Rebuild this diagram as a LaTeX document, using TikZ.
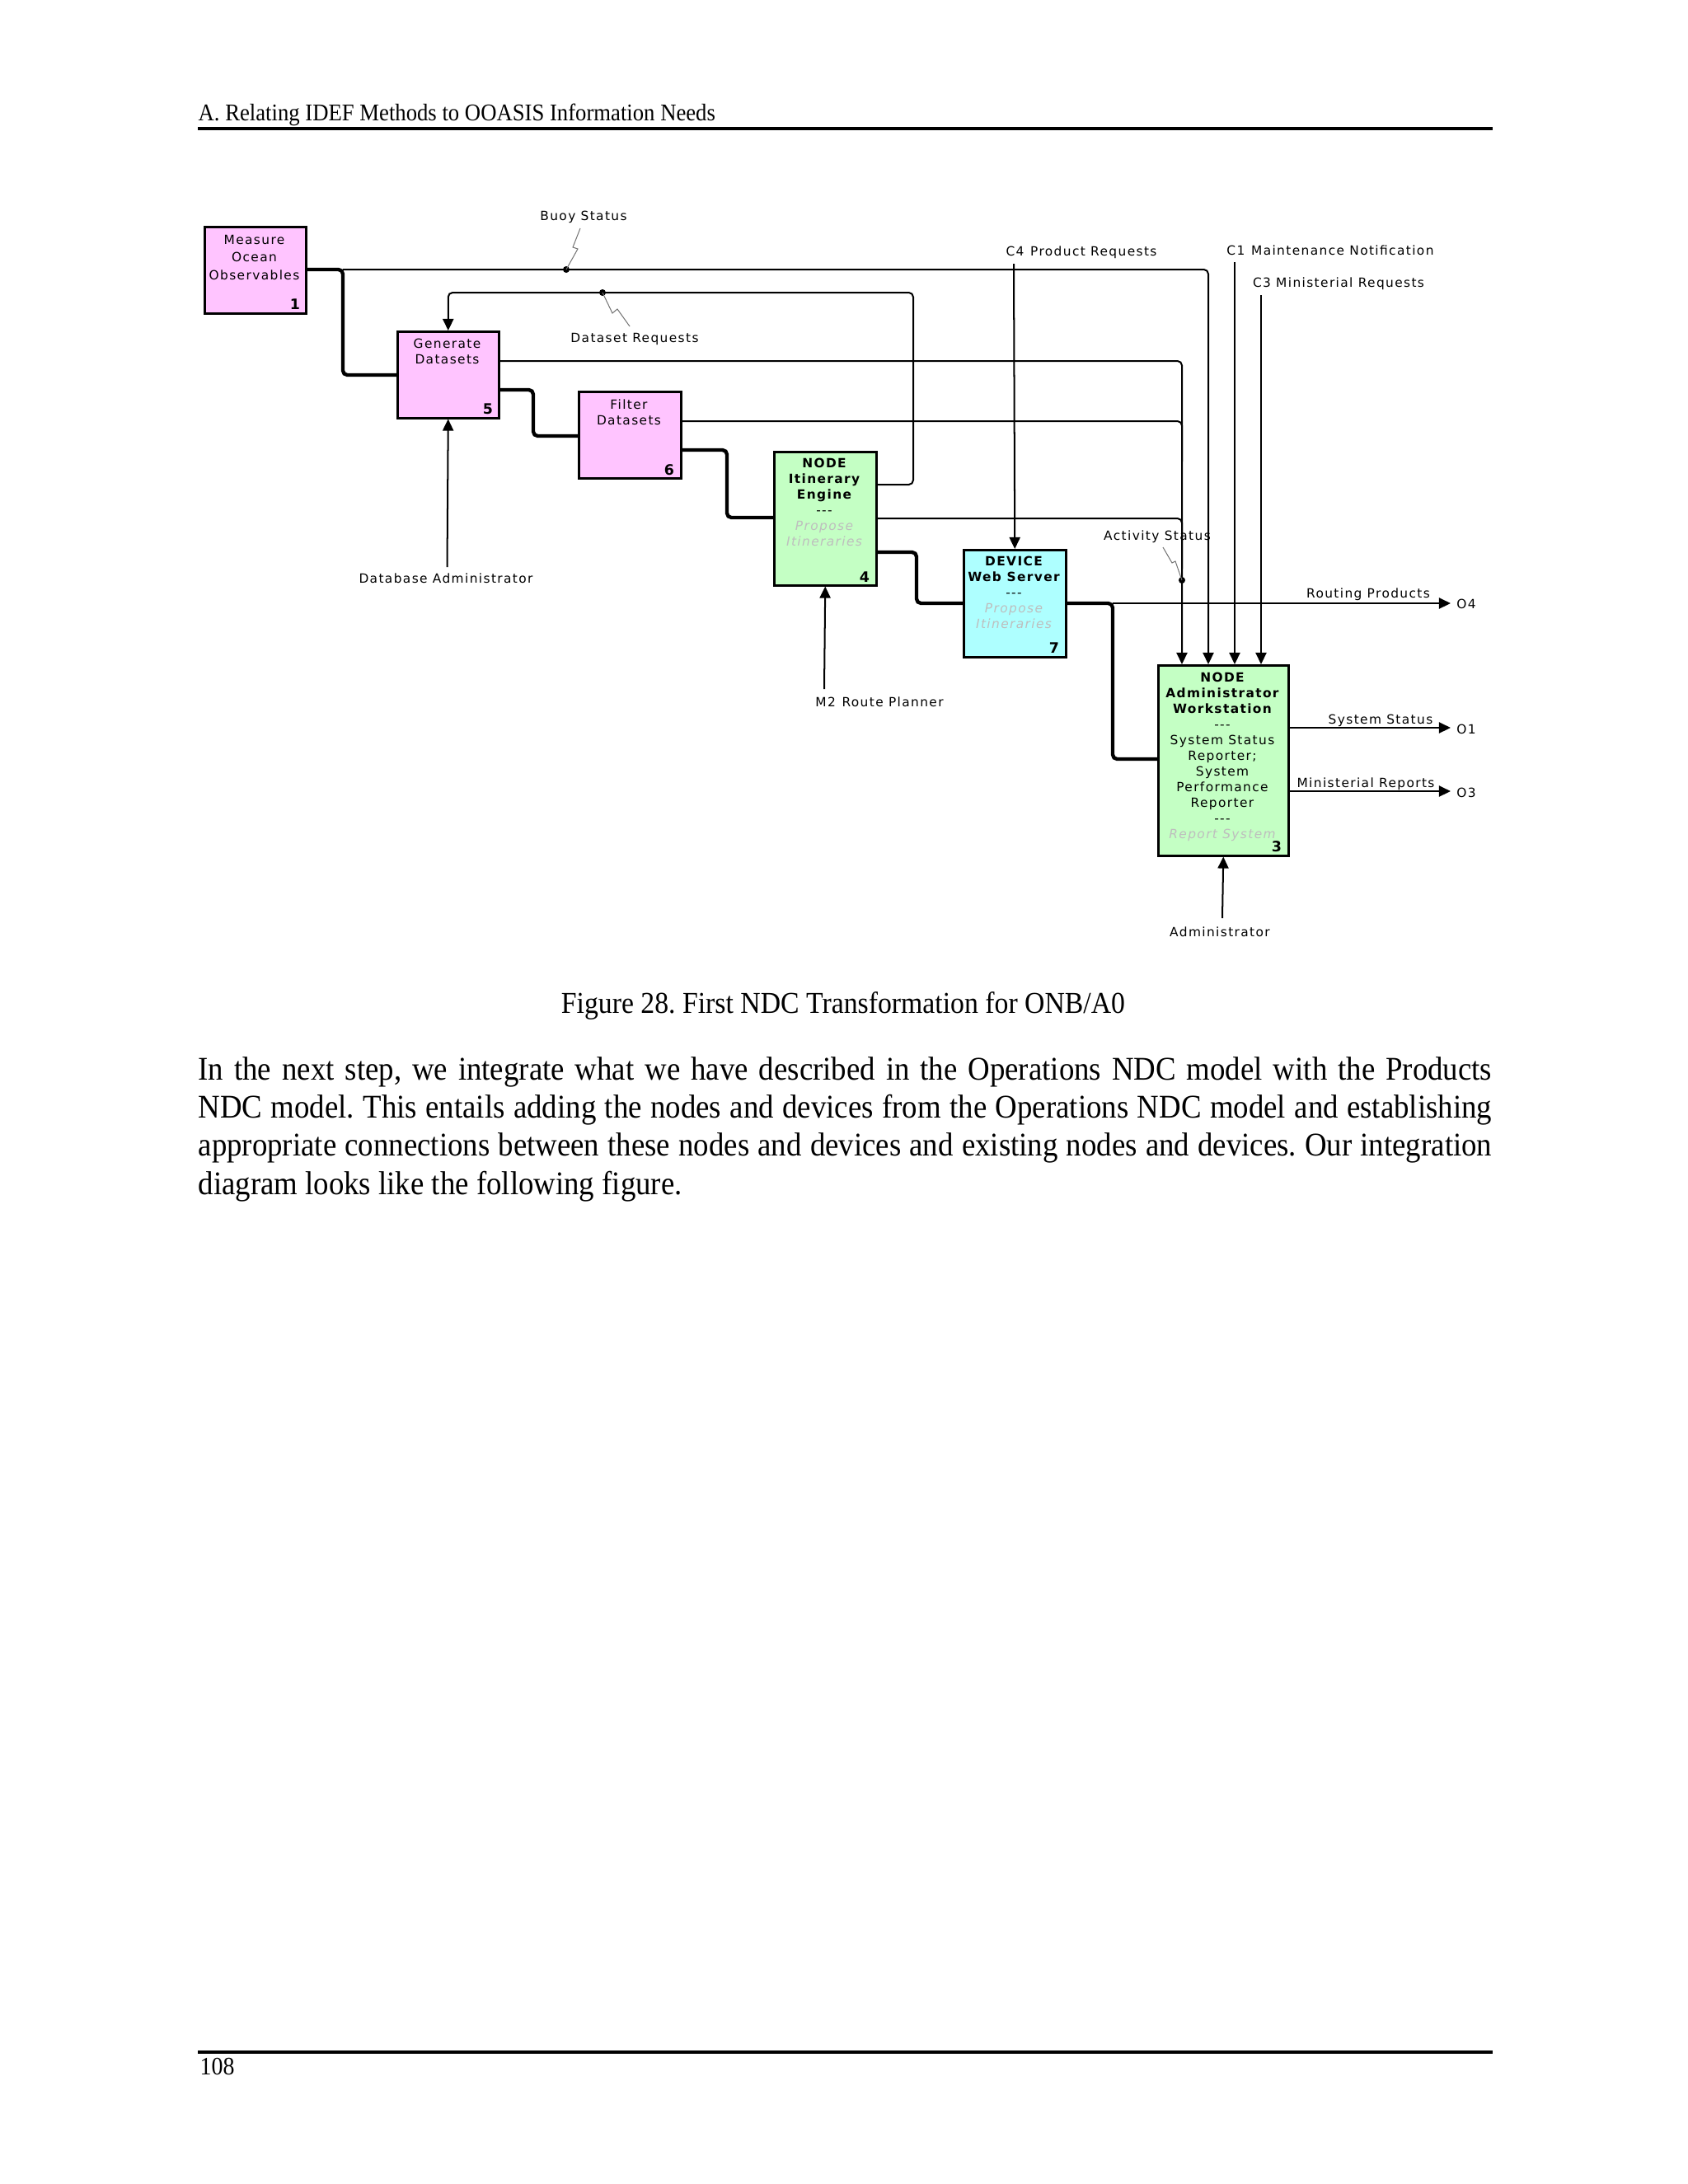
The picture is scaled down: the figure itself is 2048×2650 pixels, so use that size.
\documentclass[tikz,border=0pt]{standalone}
\usepackage{fontspec}
\setmainfont{Liberation Serif}[FakeStretch=0.917]
\newfontfamily\dia{DejaVu Sans}[LetterSpace=9]
\usetikzlibrary{arrows.meta}
\definecolor{pinkbox}{RGB}{255,196,255}
\definecolor{greenbox}{RGB}{196,255,196}
\definecolor{cyanbox}{RGB}{174,255,255}
\definecolor{ghost}{RGB}{190,190,190}
\begin{document}
\frenchspacing
\begin{tikzpicture}[x=0.29883pt,y=-0.29883pt,
  box/.style={draw, line width=0.75pt, anchor=north west, inner sep=0pt},
  thinline/.style={line width=0.6pt, rounded corners=1.6pt},
  thickline/.style={line width=1.3pt, rounded corners=1.6pt},
  arr/.style={-{Triangle[length=4.2pt,width=3.9pt]}},
  lbl/.style={font=\dia\fontsize{4.6}{5.6}\selectfont, inner sep=0pt},
  btxt/.style={font=\dia\fontsize{4.6}{5.68}\selectfont, inner sep=0pt, align=center, anchor=north},
  num/.style={font=\dia\bfseries\fontsize{5.2}{6}\selectfont, inner sep=0pt},
  squig/.style={line width=0.3pt, draw=black!55},
  dotc/.style={fill=black},
]
\fill[white] (0,0) rectangle (2048,2650);
\useasboundingbox (0,0) rectangle (2048,2650);

% page header / footer
\node[anchor=base west, inner sep=0pt, font=\fontsize{8.7}{10}\selectfont] (hdr) at (240,146) {A. Relating IDEF Methods to OOASIS Information Needs};
\coordinate (hl) at (240,156); \coordinate (hr) at (1811,156);
\draw[line width=1pt] (hl) -- (hr);
\coordinate (fl) at (240,2490); \coordinate (fr) at (1811,2490);
\draw[line width=1pt] (fl) -- (fr);
\node[anchor=base west, inner sep=0pt, font=\fontsize{9.1}{11}\selectfont] (pg) at (242,2517) {108};

% boxes
\node[box, fill=pinkbox, minimum width=36.76pt, minimum height=31.38pt] (b1) at (247,274) {};
\node[box, fill=pinkbox, minimum width=36.76pt, minimum height=31.38pt] (b5) at (481,401) {};
\node[box, fill=pinkbox, minimum width=37.05pt, minimum height=31.38pt] (b6) at (701,474) {};
\node[box, fill=greenbox, minimum width=37.05pt, minimum height=48.41pt] (n4) at (938,547) {};
\node[box, fill=cyanbox, minimum width=37.05pt, minimum height=38.85pt] (d7) at (1168,666) {};
\node[box, fill=greenbox, minimum width=47.22pt, minimum height=69.03pt] (n3) at (1404,806) {};

% box texts
\node[btxt, font=\dia\fontsize{4.6}{6.3}\selectfont] (t1) at (308.5,285) {Measure\\Ocean\\Observables};
\node[btxt] (t5) at (542.5,410) {Generate\\Datasets};
\node[btxt] (t6) at (763,484) {Filter\\Datasets};
\node[btxt] (t4) at (1000,555) {\bfseries NODE\\\bfseries Itinerary\\\bfseries Engine\\-{}-{}-\\{\color{ghost}\itshape Propose}\\{\color{ghost}\itshape Itineraries}};
\node[btxt] (t7) at (1230,674) {\bfseries DEVICE\\\bfseries Web Server\\-{}-{}-\\{\color{ghost}\itshape Propose}\\{\color{ghost}\itshape Itineraries}};
\node[btxt] (t3) at (1483,815) {\bfseries NODE\\\bfseries Administrator\\\bfseries Workstation\\-{}-{}-\\System Status\\Reporter;\\System\\Performance\\Reporter\\-{}-{}-\\{\color{ghost}\itshape Report System}};

\node[num] (k1) at (358,369) {1};
\node[num] (k5) at (592,496) {5};
\node[num] (k6) at (812,570) {6};
\node[num] (k4) at (1049,700) {4};
\node[num] (k7) at (1279,786) {7};
\node[num] (k3) at (1549,1027) {3};

% connectors
\coordinate (j1) at (416,327);
\draw[thickline] (b1.east |- 0,327) -- (j1) -- (416,455) -- (b5.west |- 0,455);
\draw[thinline, arr] (j1) -- (1466,327) -- (n3.north -| 1466,0);
\draw[thinline, arr] (n4.east |- 0,588) -- (1108,588) -- (1108,355) -- (b5.north |- 0,355) -- (b5.north);
\draw[thinline, arr] (b5.east |- 0,438) -- (1434,438) -- (n3.north -| 1434,0);
\draw[thickline] (b5.east |- 0,473) -- (647,473) -- (647,529) -- (b6.west |- 0,529);
\draw[thinline] (b6.east |- 0,511) -- (1434,511) -- (1434,560);
\draw[thickline] (b6.east |- 0,546) -- (882,546) -- (882,628) -- (n4.west |- 0,628);
\draw[thinline] (n4.east |- 0,629) -- (1434,629) -- (1434,690);
\draw[thickline] (n4.east |- 0,670) -- (1112,670) -- (1112,732) -- (d7.west |- 0,732);
\coordinate (j2) at (1350,732);
\draw[thickline] (d7.east |- 0,732) -- (j2) -- (1350,921) -- (n3.west |- 0,921);
\coordinate (o4) at (1760,732);
\draw[thinline, arr] (j2) -- (o4);
\coordinate (c4) at (1230,320);
\draw[thinline, arr] (c4) -- (d7.north);
\coordinate (c1) at (1498,318);
\draw[thinline, arr] (c1) -- (n3.north -| c1);
\coordinate (c3) at (1530,358);
\draw[thinline, arr] (c3) -- (n3.north -| c3);
\coordinate (m1) at (542.5,688);
\draw[thinline, arr] (m1) -- (b5.south);
\coordinate (m2) at (1000,836);
\draw[thinline, arr] (m2) -- (n4.south);
\coordinate (m3) at (1483,1114);
\draw[thinline, arr] (m3) -- (n3.south);
\coordinate (o1) at (1760,883);
\draw[thinline, arr] (n3.east |- 0,883) -- (o1);
\coordinate (o3) at (1760,960);
\draw[thinline, arr] (n3.east |- 0,960) -- (o3);

% dots and squiggles
\fill[dotc] (687,327) circle[radius=1.2pt];
\fill[dotc] (731,355) circle[radius=1.2pt];
\fill[dotc] (1434,704) circle[radius=1.2pt];
\draw[squig] (704,277) -- (695,300) -- (701,302) -- (687,327);
\draw[squig] (731,355) -- (743,380) -- (749,375) -- (764,396);
\draw[squig] (1411,664) -- (1422,683) -- (1426,681) -- (1434,704);

% labels
\node[lbl] (lbuoy) at (708,263) {Buoy Status};
\node[lbl] (lds) at (770,411) {Dataset Requests};
\node[lbl] (lc4) at (1312,306) {C4\enspace Product Requests};
\node[lbl] (lc1) at (1614,304) {C1\enspace Maintenance Notification};
\node[lbl] (lc3) at (1624,344) {C3 Ministerial Requests};
\node[lbl] (lact) at (1404,651) {Activity Status};
\node[lbl] (lrp) at (1660,721) {Routing Products};
\node[lbl] (lo4) at (1779,733) {O4};
\node[lbl] (lss) at (1675,874) {System Status};
\node[lbl] (lo1) at (1779,885) {O1};
\node[lbl] (lmr) at (1657,951) {Ministerial Reports};
\node[lbl] (lo3) at (1779,962) {O3};
\node[lbl] (ladm) at (1480,1131) {Administrator};
\node[lbl] (ldba) at (541,702) {Database Administrator};
\node[lbl] (lm2) at (1067,852) {M2\enspace Route Planner};

% caption and body text
\node[inner sep=0pt, font=\fontsize{11}{13}\selectfont] (cap) at (1023,1220) {Figure 28. First NDC Transformation for ONB/A0};
\node[anchor=north west, inner sep=0pt, text width=469pt, align=justify, font=\fontsize{12}{13.8}\selectfont] (body) at (240,1282) {In the next step, we integrate what we have described in the Operations NDC model with the Products\linebreak NDC model. This entails adding the nodes and devices from the Operations NDC model and establishing\linebreak appropriate connections between these nodes and devices and existing nodes and devices. Our integration\linebreak diagram looks like the following figure.};
\end{tikzpicture}
\end{document}
